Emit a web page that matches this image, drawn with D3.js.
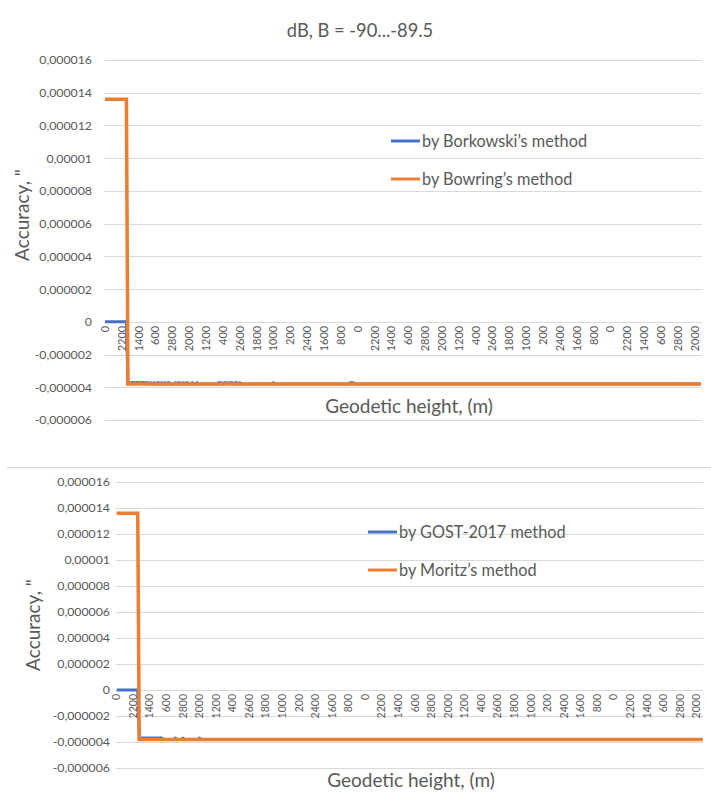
<!DOCTYPE html>
<html>
<head>
<meta charset="utf-8">
<script src="https://cdn.jsdelivr.net/npm/d3@7"></script>
<style>
  html, body { margin: 0; padding: 0; background: #fff; }
  svg { display: block; font-family: Lato, "Noto Sans", sans-serif; }
</style>
</head>
<body>
<svg id="chart" width="711" height="809"></svg>
<script>
// ---------- DATA ----------
const chartTitle = "dB, B = -90...-89.5";
const heights = [0, 200, 400, 600, 800, 1000, 1200, 1400, 1600, 1800, 2000, 2200, 2400, 2600, 2800];
const latitudes = [-90, -89.98, -89.96, -89.94, -89.92, -89.9, -89.88, -89.86, -89.84, -89.82, -89.8,
  -89.78, -89.76, -89.74, -89.72, -89.7, -89.68, -89.66, -89.64, -89.62, -89.6, -89.58, -89.56, -89.54, -89.52, -89.5];
const yTicks = [0.000016, 0.000014, 0.000012, 0.00001, 0.000008, 0.000006, 0.000004, 0.000002, 0, -0.000002, -0.000004, -0.000006];
const yTickLabels = ["0,000016", "0,000014", "0,000012", "0,00001", "0,000008", "0,000006", "0,000004", "0,000002", "0", "-0,000002", "-0,000004", "-0,000006"];
const xLabelStep = 11;

// rows per latitude (15 heights each); rows not listed are the "steady" row
const steadyRow = [-3.8e-6,-3.8e-6,-3.8e-6,-3.8e-6,-3.8e-6,-3.8e-6,-3.8e-6,-3.8e-6,-3.8e-6,-3.8e-6,-3.8e-6,-3.8e-6,-3.8e-6,-3.8e-6,-3.8e-6];
const poleRowZero = [0,0,0,0,0,0,0,0,0,0,0,0,0,0,0];
const poleRowHigh = [1.36e-5,1.36e-5,1.36e-5,1.36e-5,1.36e-5,1.36e-5,1.36e-5,1.36e-5,1.36e-5,1.36e-5,1.36e-5,1.36e-5,1.36e-5,1.36e-5,1.36e-5];

const borkowskiRows = {
  0: poleRowZero,
  1: [-3.8e-6,-3.72e-6,-3.72e-6,-3.71e-6,-3.72e-6,-3.72e-6,-3.71e-6,-3.72e-6,-3.72e-6,-3.72e-6,-3.71e-6,-3.72e-6,-3.72e-6,-3.72e-6,-3.8e-6],
  2: [-3.72e-6,-3.8e-6,-3.72e-6,-3.8e-6,-3.72e-6,-3.72e-6,-3.8e-6,-3.72e-6,-3.8e-6,-3.72e-6,-3.8e-6,-3.72e-6,-3.72e-6,-3.8e-6,-3.8e-6],
  3: [-3.8e-6,-3.72e-6,-3.8e-6,-3.72e-6,-3.72e-6,-3.8e-6,-3.72e-6,-3.8e-6,-3.72e-6,-3.72e-6,-3.8e-6,-3.8e-6,-3.72e-6,-3.8e-6,-3.8e-6],
  4: [-3.72e-6,-3.8e-6,-3.8e-6,-3.8e-6,-3.8e-6,-3.8e-6,-3.8e-6,-3.8e-6,-3.8e-6,-3.8e-6,-3.8e-6,-3.8e-6,-3.8e-6,-3.8e-6,-3.72e-6],
  5: [-3.72e-6,-3.72e-6,-3.8e-6,-3.72e-6,-3.72e-6,-3.8e-6,-3.72e-6,-3.72e-6,-3.72e-6,-3.8e-6,-3.72e-6,-3.72e-6,-3.8e-6,-3.72e-6,-3.8e-6],
  7: [-3.8e-6,-3.8e-6,-3.8e-6,-3.8e-6,-3.8e-6,-3.72e-6,-3.8e-6,-3.8e-6,-3.8e-6,-3.8e-6,-3.8e-6,-3.8e-6,-3.8e-6,-3.8e-6,-3.8e-6],
  10: [-3.8e-6,-3.8e-6,-3.8e-6,-3.8e-6,-3.8e-6,-3.8e-6,-3.8e-6,-3.8e-6,-3.8e-6,-3.8e-6,-3.72e-6,-3.72e-6,-3.72e-6,-3.8e-6,-3.8e-6]
};
const bowringRows = { 0: poleRowHigh };
const gostRows = {
  0: poleRowZero,
  1: [-3.8e-6,-3.7e-6,-3.7e-6,-3.7e-6,-3.7e-6,-3.7e-6,-3.7e-6,-3.7e-6,-3.7e-6,-3.7e-6,-3.7e-6,-3.7e-6,-3.7e-6,-3.7e-6,-3.7e-6],
  2: [-3.7e-6,-3.8e-6,-3.8e-6,-3.8e-6,-3.8e-6,-3.8e-6,-3.8e-6,-3.8e-6,-3.8e-6,-3.7e-6,-3.8e-6,-3.8e-6,-3.8e-6,-3.8e-6,-3.7e-6],
  3: [-3.8e-6,-3.8e-6,-3.8e-6,-3.8e-6,-3.8e-6,-3.8e-6,-3.8e-6,-3.8e-6,-3.8e-6,-3.8e-6,-3.7e-6,-3.8e-6,-3.8e-6,-3.8e-6,-3.8e-6]
};
const moritzRows = { 0: poleRowHigh };

// ---------- BUILD ----------
const categories = d3.cross(latitudes, heights).map(([b, h], i) => ({i, b, h}));
const series = rows => latitudes.flatMap((b, r) => rows[r] || steadyRow);

const svg = d3.select("#chart");
const textColor = "#595959";
const gridColor = "#d9d9d9";
const blue = "#4472C4", orange = "#ED7D31";
const FONT = "Lato, 'Noto Sans', sans-serif";

function drawChart(cfg) {
  const g = svg.append("g");
  const x = d3.scaleBand().domain(categories.map(d => d.i)).range([cfg.left, cfg.right]).paddingInner(0).paddingOuter(0);
  const y = d3.scaleLinear().domain([-0.000006, 0.000016]).range([cfg.bottom, cfg.top]);
  const cx = i => x(i) + x.bandwidth() / 2;

  // gridlines
  g.append("g").selectAll("line").data(yTicks).join("line")
    .attr("x1", cfg.left).attr("x2", cfg.right)
    .attr("y1", d => Math.round(y(d)) + 0.5).attr("y2", d => Math.round(y(d)) + 0.5)
    .attr("stroke", gridColor).attr("stroke-width", 1);

  // y axis labels
  const yAxis = d3.axisLeft(y).tickValues(yTicks).tickSize(0).tickPadding(0)
    .tickFormat((d, k) => yTickLabels[k]);
  const ya = g.append("g").attr("transform", `translate(${cfg.yLabelX},0)`).call(yAxis);
  ya.select(".domain").remove();
  ya.selectAll("text").attr("fill", textColor).style("font-size", "12.3px").style("font-family", FONT);

  // x axis labels (axis crosses at 0)
  const xTickVals = categories.filter(d => d.i % xLabelStep === 0).map(d => d.i);
  const xAxis = d3.axisBottom(x).tickValues(xTickVals).tickSize(0).tickPadding(0)
    .tickFormat(i => String(categories[i].h));
  const xa = g.append("g").attr("transform", `translate(0,${y(0)})`).call(xAxis);
  xa.select(".domain").remove();
  xa.selectAll("text")
    .attr("fill", textColor).style("font-size", cfg.xFont + "px").style("font-family", FONT)
    .attr("text-anchor", "end")
    .attr("dy", "0.35em").attr("y", 0).attr("x", -4)
    .attr("transform", "rotate(-90)");

  // lines
  const line = d3.line().x((d, i) => cx(i)).y(d => y(d));
  g.append("path").datum(cfg.s1).attr("d", line).attr("fill", "none")
    .attr("stroke", blue).attr("stroke-width", 3).attr("stroke-linejoin", "round");
  g.append("path").datum(cfg.s2).attr("d", line).attr("fill", "none")
    .attr("stroke", orange).attr("stroke-width", 3.5).attr("stroke-linejoin", "miter");

  // legend
  const leg = g.append("g");
  [[cfg.n1, blue, cfg.legY1], [cfg.n2, orange, cfg.legY2]].forEach(([name, col, ly]) => {
    leg.append("line").attr("x1", cfg.legX).attr("x2", cfg.legX + 29)
      .attr("y1", ly).attr("y2", ly).attr("stroke", col).attr("stroke-width", 3);
    leg.append("text").attr("x", cfg.legX + 31).attr("y", ly).attr("dy", "0.35em")
      .attr("fill", textColor).style("font-size", "16.3px").text(name);
  });

  // axis titles
  g.append("text").attr("x", cfg.xTitleX).attr("y", cfg.xTitleY).attr("text-anchor", "middle")
    .attr("dy", "0.35em").attr("fill", textColor).style("font-size", "19px").text("Geodetic height, (m)");
  g.append("text").attr("transform", `translate(${cfg.yTitleX},${cfg.yTitleY}) rotate(-90)`)
    .attr("text-anchor", "middle").attr("dy", "0.35em").attr("fill", textColor)
    .style("font-size", "19px").text("Accuracy, \"");
}

// title
svg.append("text").attr("x", 360).attr("y", 31).attr("text-anchor", "middle").attr("dy", "0.35em")
  .attr("fill", textColor).style("font-size", "18.3px").text(chartTitle);

drawChart({
  left: 104.2, right: 701.8, top: 60, bottom: 420, yLabelX: 92, xFont: 11,
  s1: series(borkowskiRows), s2: series(bowringRows),
  n1: "by Borkowski\u2019s method", n2: "by Bowring\u2019s method",
  legX: 391, legY1: 141, legY2: 179,
  xTitleX: 409, xTitleY: 406, yTitleX: 22, yTitleY: 215
});

// separator between charts
svg.append("line").attr("x1", 7).attr("x2", 711).attr("y1", 467.5).attr("y2", 467.5)
  .attr("stroke", gridColor).attr("stroke-width", 1);

drawChart({
  left: 115.9, right: 703.3, top: 482, bottom: 768, yLabelX: 110, xFont: 10.5,
  s1: series(gostRows), s2: series(moritzRows),
  n1: "by GOST-2017 method", n2: "by Moritz\u2019s method",
  legX: 368, legY1: 532, legY2: 570,
  xTitleX: 411, xTitleY: 780, yTitleX: 33, yTitleY: 625
});
</script>
</body>
</html>
